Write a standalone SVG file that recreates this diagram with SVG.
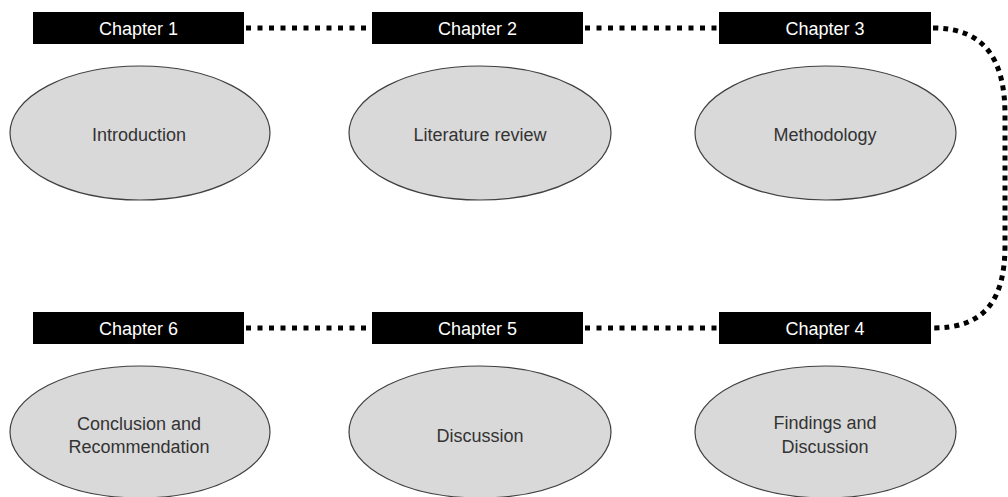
<svg xmlns="http://www.w3.org/2000/svg" width="1008" height="497" viewBox="0 0 1008 497">
<style>
.bar{fill:#000}
.bt{fill:#fff;font-family:"Liberation Sans",Arial,sans-serif;font-size:18px;text-anchor:middle}
.el{fill:#d9d9d9;stroke:#404040;stroke-width:1.2}
.et{fill:#333;font-family:"Liberation Sans",Arial,sans-serif;font-size:18px;text-anchor:middle}
.dot{fill:none;stroke:#000;stroke-width:5;stroke-dasharray:5 6.5}
.dotc{fill:none;stroke:#000;stroke-width:5;stroke-dasharray:5 5}
</style>
<rect width="1008" height="497" fill="#fff"/>
<g id="connectors">
<line class="dot" x1="246" y1="28" x2="372" y2="28"/>
<line class="dot" x1="585" y1="28" x2="719" y2="28"/>
<line class="dot" x1="246" y1="328" x2="372" y2="328"/>
<line class="dot" x1="585" y1="328" x2="719" y2="328"/>
<path class="dotc" d="M933,28 C985,28 1005,60 1005,115 L1005,245 C1005,300 985,328 933,328"/>
</g>
<g id="ch1"><rect class="bar" x="33" y="12" width="211" height="32"/><text class="bt" x="138.5" y="34.5">Chapter 1</text></g>
<g id="ch2"><rect class="bar" x="372" y="12" width="211" height="32"/><text class="bt" x="477.5" y="34.5">Chapter 2</text></g>
<g id="ch3"><rect class="bar" x="719" y="12" width="212" height="32"/><text class="bt" x="825" y="34.5">Chapter 3</text></g>
<g id="ch4"><rect class="bar" x="719" y="312" width="212" height="32"/><text class="bt" x="825" y="334.5">Chapter 4</text></g>
<g id="ch5"><rect class="bar" x="372" y="312" width="211" height="32"/><text class="bt" x="477.5" y="334.5">Chapter 5</text></g>
<g id="ch6"><rect class="bar" x="33" y="312" width="211" height="32"/><text class="bt" x="138.5" y="334.5">Chapter 6</text></g>
<g id="introduction"><ellipse class="el" cx="140" cy="133" rx="130" ry="67"/><text class="et" x="139" y="141">Introduction</text></g>
<g id="literature"><ellipse class="el" cx="480" cy="133" rx="131" ry="67"/><text class="et" x="480" y="141">Literature review</text></g>
<g id="methodology"><ellipse class="el" cx="825.5" cy="133" rx="130.5" ry="67"/><text class="et" x="825" y="141">Methodology</text></g>
<g id="findings"><ellipse class="el" cx="825.5" cy="432" rx="130.5" ry="66"/><text class="et" x="825" y="429">Findings and</text><text class="et" x="825" y="453">Discussion</text></g>
<g id="discussion"><ellipse class="el" cx="480" cy="432" rx="131" ry="66"/><text class="et" x="480" y="442">Discussion</text></g>
<g id="conclusion"><ellipse class="el" cx="140" cy="432" rx="130" ry="66"/><text class="et" x="139" y="430">Conclusion and</text><text class="et" x="139" y="453">Recommendation</text></g>
</svg>
